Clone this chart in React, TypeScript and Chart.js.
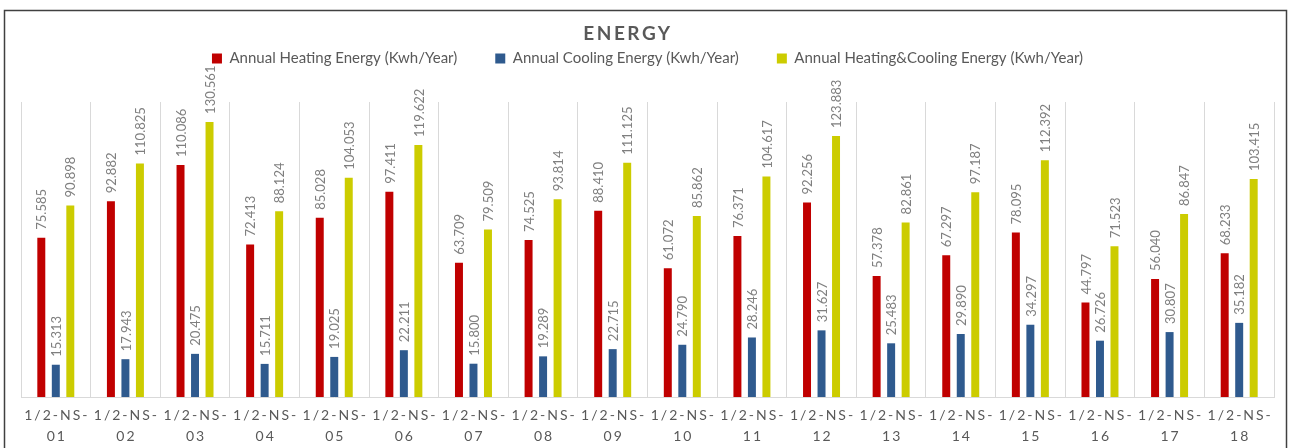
import React, { useEffect, useRef } from 'react';
import { Chart, registerables } from 'chart.js';

Chart.register(...registerables);

// Building codes along the x axis (drawn as "1/2-NS-" over the number)
const tickPrefix = '1/2-NS-';
const categories = ['01', '02', '03', '04', '05', '06', '07', '08', '09', '10', '11', '12', '13', '14', '15', '16', '17', '18'];

const seriesNames = [
  'Annual Heating Energy (Kwh/Year)',
  'Annual Cooling Energy (Kwh/Year)',
  'Annual Heating&Cooling Energy (Kwh/Year)',
];

const heating = [75.585, 92.882, 110.086, 72.413, 85.028, 97.411, 63.709, 74.525, 88.41, 61.072, 76.371, 92.256, 57.378, 67.297, 78.095, 44.797, 56.04, 68.233];
const cooling = [15.313, 17.943, 20.475, 15.711, 19.025, 22.211, 15.8, 19.289, 22.715, 24.79, 28.246, 31.627, 25.483, 29.89, 34.297, 26.726, 30.807, 35.182];
const combined = [90.898, 110.825, 130.561, 88.124, 104.053, 119.622, 79.509, 93.814, 111.125, 85.862, 104.617, 123.883, 82.861, 97.187, 112.392, 71.523, 86.847, 103.415];

const chartTitle = 'ENERGY';
const yMax = 140;

const FONT = 'Lato, "Open Sans", sans-serif';
const TEXT_DARK = '#595959';
const TEXT_LIGHT = '#7F7F7F';

// Frame, title, value labels and two-line category labels
const decorations = {
  id: 'decorations',
  afterDatasetsDraw(chart: any) {
    const ctx = chart.ctx as CanvasRenderingContext2D;
    ctx.save();
    ctx.font = `13px ${FONT}`;
    ctx.fillStyle = TEXT_LIGHT;
    ctx.textAlign = 'left';
    ctx.textBaseline = 'middle';
    chart.data.datasets.forEach((ds: any, di: number) => {
      const meta = chart.getDatasetMeta(di);
      meta.data.forEach((bar: any, i: number) => {
        const v = ds.data[i] as number;
        ctx.save();
        ctx.translate(bar.x + 1, bar.y - 8);
        ctx.rotate(-Math.PI / 2);
        ctx.fillText(v.toFixed(3), 0, 0);
        ctx.restore();
      });
    });
    ctx.restore();
  },
  afterDraw(chart: any) {
    const ctx = chart.ctx as any;
    ctx.save();
    // outer frame
    ctx.strokeStyle = '#404040';
    ctx.lineWidth = 1.5;
    ctx.strokeRect(4.5, 10.5, 1282, 470);

    // title
    ctx.fillStyle = TEXT_DARK;
    ctx.textAlign = 'center';
    ctx.textBaseline = 'middle';
    ctx.font = `bold 19px ${FONT}`;
    ctx.letterSpacing = '2.5px';
    ctx.fillText(chartTitle, 628, 34);

    // category labels
    ctx.font = `14px ${FONT}`;
    ctx.letterSpacing = '2px';
    const xs = chart.scales.x;
    categories.forEach((c, i) => {
      const x = xs.getPixelForValue(i) + 1;
      ctx.fillText(tickPrefix, x, 415);
      ctx.fillText(c, x, 436);
    });
    ctx.restore();
  },
};

export default function App() {
  const canvasRef = useRef<HTMLCanvasElement | null>(null);

  useEffect(() => {
    const canvas = canvasRef.current;
    if (!canvas) return;
    const chart = new Chart(canvas, {
      type: 'bar',
      data: {
        labels: categories.map((c) => `${tickPrefix}${c}`),
        datasets: [
          { label: seriesNames[0], data: heating, backgroundColor: '#C00000', xAxisID: 'x', yAxisID: 'y' },
          { label: seriesNames[1], data: cooling, backgroundColor: '#2F5A8E', xAxisID: 'x', yAxisID: 'y' },
          { label: seriesNames[2], data: combined, backgroundColor: '#CCCC00', xAxisID: 'x', yAxisID: 'y' },
        ],
      },
      options: {
        responsive: false,
        animation: false,
        devicePixelRatio: 1,
        layout: { padding: { left: 21, right: 16, top: 13, bottom: 0 } },
        datasets: { bar: { categoryPercentage: 0.625, barPercentage: 0.55 } },
        plugins: {
          title: { display: false },
          tooltip: { enabled: false },
          legend: {
            position: 'top',
            labels: {
              boxWidth: 10,
              boxHeight: 10,
              padding: 38,
              color: TEXT_DARK,
              font: { family: FONT, size: 15 },
            },
          },
        },
        scales: {
          x: {
            position: 'bottom',
            grid: { color: '#D9D9D9', drawTicks: false, offset: true },
            border: { color: '#D9D9D9' },
            ticks: { display: false },
            afterFit: (s: any) => {
              s.height = 51;
            },
          },
          gap: {
            type: 'category',
            position: 'top',
            grid: { display: false },
            border: { display: false },
            ticks: { display: false },
            afterFit: (s: any) => {
              s.height = 26;
            },
          },
          y: { display: false, min: 0, max: yMax },
        },
      } as any,
      plugins: [decorations as any],
    });
    return () => chart.destroy();
  }, []);

  return (
    <div style={{ position: 'fixed', left: 0, top: 0, width: 1290, height: 448, background: '#fff' }}>
      <canvas ref={canvasRef} width={1290} height={448} />
    </div>
  );
}
